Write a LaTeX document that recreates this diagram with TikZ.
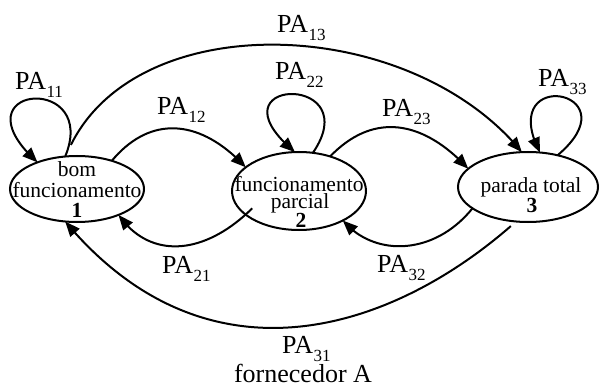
\documentclass[tikz,border=0pt]{standalone}
\usepackage{fontspec}
\setmainfont{Liberation Serif}
\usetikzlibrary{arrows.meta,shapes.geometric,bending}
% transition probability label: PA with a lowered index
\newcommand\pasub[1]{PA\kern0.5pt\raisebox{-8pt}{\fontsize{17}{17}\selectfont #1}}
\begin{document}
\begin{tikzpicture}[x=1pt,y=-1pt,
  state/.style={draw, ellipse, line width=2pt, inner sep=0pt, outer sep=0pt},
  trans/.style={line width=2pt, -{Triangle[length=15pt,width=12pt]}},
  lbl/.style={inner sep=0pt, anchor=base west, font=\fontsize{26}{26}\selectfont},
  stxt/.style={inner sep=0pt, anchor=base, font=\fontsize{21.5}{21.5}\selectfont},
]
\useasboundingbox (0,0) rectangle (600,385);

% states
\node[state, minimum width=134pt, minimum height=66pt] (e1) at (77,189) {};
\node[state, minimum width=134pt, minimum height=78pt] (e2) at (299,191) {};
\node[state, minimum width=140pt, minimum height=70pt] (e3) at (528,187) {};

% state texts
\node[stxt] (t1a) at (77,177) {bom};
\node[stxt] (t1b) at (77,197) {funcionamento};
\node[stxt] (t1c) at (77,217) {\bfseries 1};
\node[stxt] (t2a) at (299,192) {funcionamento};
\node[stxt] (t2b) at (300,208) {parcial};
\node[stxt] (t2c) at (301,227) {\bfseries 2};
\node[stxt] (t3a) at (531,193) {parada total};
\node[stxt] (t3b) at (532,212) {\bfseries 3};

% self loops
\draw[trans] (e1.110) .. controls (100,72) and (-48,85) .. (e1.146);
\draw[trans] (e2.70) .. controls (368,72) and (205,77) .. (e2.96);
\draw[trans] (e3.47) .. controls (635,90) and (495,65) .. (e3.71);

% forward transitions
\draw[trans] (e1.39) .. controls (150,115) and (200,118) .. (e2.156);
\draw[trans] (e2.48) .. controls (375,110) and (425,122) .. (e3.163);
\draw[trans, shorten <=13pt] (e1.110) .. controls (140,5) and (410,15) .. (e3.100);

% backward transitions
\draw[trans, shorten <=-9pt] (e2.204) .. controls (205,255) and (150,260) .. (e1.328);
\draw[trans] (e3.201) .. controls (435,255) and (375,258) .. (e2.326);
\draw[trans, shorten <=7pt] (e3.251) .. controls (388,333) and (206,390) .. (e1.250);

% labels
\node[lbl] (l11) at (15,90) {\pasub{11}};
\node[lbl] (l12) at (157,115) {\pasub{12}};
\node[lbl] (l13) at (277,33) {\pasub{13}};
\node[lbl] (l22) at (275,80) {\pasub{22}};
\node[lbl] (l23) at (382,117) {\pasub{23}};
\node[lbl] (l33) at (538,87) {\pasub{33}};
\node[lbl] (l21) at (162,273) {\pasub{21}};
\node[lbl] (l32) at (377,272) {\pasub{32}};
\node[lbl] (l31) at (282,353) {\pasub{31}};
\node[lbl, anchor=base] (forn) at (303,382) {fornecedor A};
\end{tikzpicture}
\end{document}
